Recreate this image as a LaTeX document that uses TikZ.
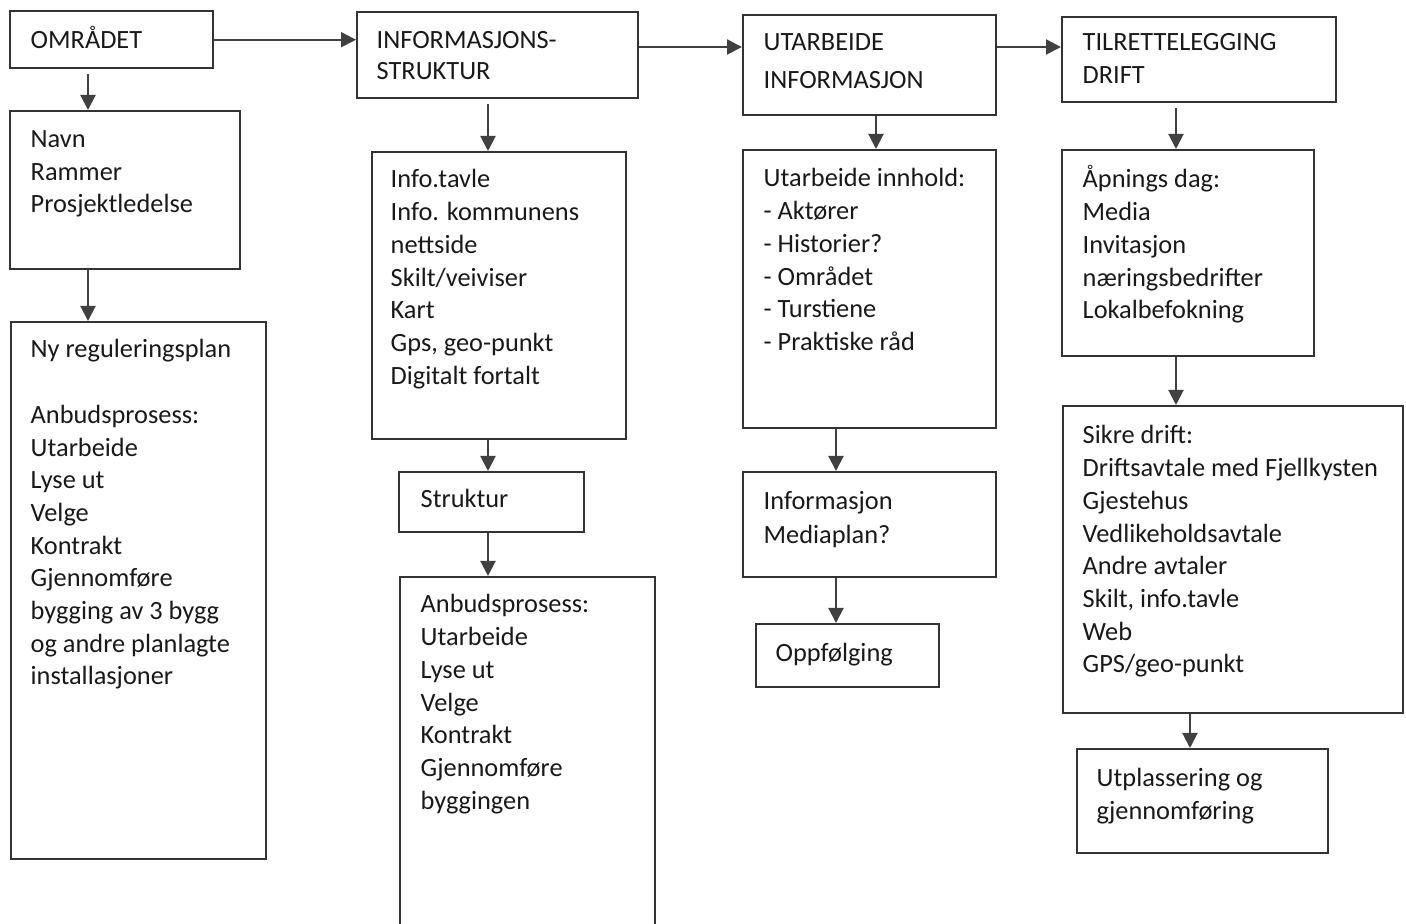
\documentclass[tikz,border=0pt]{standalone}
\usepackage{fontspec}
\setmainfont{Carlito}
\usetikzlibrary{arrows.meta}
\tikzset{
	boks/.style={draw=black!80, line width=0.7pt, anchor=north west, inner sep=0pt},
	tekst/.style={anchor=north west, align=left, inner sep=0pt, font=\fontsize{7.5}{9.3}\selectfont, text=black!90, execute at begin node=\strut},
	pil/.style={draw=black!75, line width=0.6pt, -{Triangle[length=1.5mm,width=1.5mm]}}
}
\begin{document}
\begin{tikzpicture}[x=0.1mm, y=-0.1mm]
			\clip (0,0) rectangle (1406,924);
			\node[boks, minimum width=20.3mm, minimum height=5.7mm] (omr) at (9,10) {};
			\node[boks, minimum width=28.1mm, minimum height=8.6mm] (info) at (356,11) {};
			\node[boks, minimum width=25.3mm, minimum height=10mm] (utarb) at (742,14) {};
			\node[boks, minimum width=27.4mm, minimum height=8.5mm] (tilr) at (1061,16) {};
			\node[boks, minimum width=23mm, minimum height=15.8mm] (navn) at (9,110) {};
			\node[boks, minimum width=25.5mm, minimum height=53.7mm] (regul) at (10,321) {};
			\node[boks, minimum width=25.4mm, minimum height=28.7mm] (tavle) at (371,151) {};
			\node[boks, minimum width=18.5mm, minimum height=6mm] (strukt) at (398,471) {};
			\node[boks, minimum width=25.5mm, minimum height=36mm] (anbud) at (399,576) {};
			\node[boks, minimum width=25.3mm, minimum height=27.8mm] (innh) at (742,149) {};
			\node[boks, minimum width=25.3mm, minimum height=10.5mm] (media) at (742,471) {};
			\node[boks, minimum width=18.3mm, minimum height=6.3mm] (oppf) at (755,623) {};
			\node[boks, minimum width=25.2mm, minimum height=20.6mm] (apn) at (1061,149) {};
			\node[boks, minimum width=34mm, minimum height=30.7mm] (sikre) at (1062,405) {};
			\node[boks, minimum width=25.1mm, minimum height=10.4mm] (utpl) at (1076,748) {};
			
			\node[tekst] (omr-t) at (30,25) {OMRÅDET};
			\node[tekst] (info-t) at (376,31) {INFORMASJONS-\\[-0.6pt]STRUKTUR};
			\node[tekst] (utarb-t) at (763,33) {UTARBEIDE\\[1.5pt]INFORMASJON};
			\node[tekst] (tilr-t) at (1082,33) {TILRETTELEGGING\\DRIFT};
			\node[tekst] (navn-t) at (30,130) {Navn\\Rammer\\Prosjektledelse};
			\node[tekst] (regul-t) at (30,339) {Ny reguleringsplan\\[9.3pt]Anbudsprosess:\\Utarbeide\\Lyse ut\\Velge\\Kontrakt\\Gjennomføre\\bygging av 3 bygg\\og andre planlagte\\installasjoner};
			\node[tekst] (tavle-t) at (390,169) {Info.tavle\\Info. kommunens\\nettside\\Skilt/veiviser\\Kart\\Gps, geo-punkt\\Digitalt fortalt};
			\node[tekst] (strukt-t) at (420,484) {Struktur};
			\node[tekst] (anbud-t) at (420,594) {Anbudsprosess:\\Utarbeide\\Lyse ut\\Velge\\Kontrakt\\Gjennomføre\\byggingen};
			\node[tekst] (innh-t) at (763,168) {Utarbeide innhold:\\- Aktører\\- Historier?\\- Området\\- Turstiene\\- Praktiske råd};
			\node[tekst] (media-t) at (763,491) {Informasjon\\[0.3pt]Mediaplan?};
			\node[tekst] (oppf-t) at (775,638) {Oppfølging};
			\node[tekst] (apn-t) at (1082,165) {Åpnings dag:\\Media\\Invitasjon\\næringsbedrifter\\Lokalbefokning};
			\node[tekst] (sikre-t) at (1082,425) {Sikre drift:\\Driftsavtale med Fjellkysten\\Gjestehus\\Vedlikeholdsavtale\\Andre avtaler\\Skilt, info.tavle\\Web\\GPS/geo-punkt};
			\node[tekst] (utpl-t) at (1096,768) {Utplassering og\\gjennomføring};
			
			\draw[pil] (omr.east) -- (omr.east -| info.west);
			\draw[pil] ([yshift=-3.6mm]info.north east) -- ([yshift=-3.6mm]info.north east -| utarb.west);
			\draw[pil] ([yshift=-3.3mm]utarb.north east) -- ([yshift=-3.3mm]utarb.north east -| tilr.west);
			\draw[pil, shorten <=0.5mm] ([xshift=7.9mm]navn.north west |- omr.south) -- ([xshift=7.9mm]navn.north west);
			\draw[pil] ([xshift=7.9mm]navn.south west) -- ([xshift=7.9mm]navn.south west |- regul.north);
			\draw[pil, shorten <=0.5mm] ([xshift=11.7mm]tavle.north west |- info.south) -- ([xshift=11.7mm]tavle.north west);
			\draw[pil] ([xshift=11.7mm]tavle.south west) -- ([xshift=11.7mm]tavle.south west |- strukt.north);
			\draw[pil] ([xshift=9mm]strukt.south west) -- ([xshift=9mm]strukt.south west |- anbud.north);
			\draw[pil] ([xshift=13.4mm]innh.north west |- utarb.south) -- ([xshift=13.4mm]innh.north west);
			\draw[pil] ([xshift=9.4mm]innh.south west) -- ([xshift=9.4mm]innh.south west |- media.north);
			\draw[pil] ([xshift=9.4mm]media.south west) -- ([xshift=9.4mm]media.south west |- oppf.north);
			\draw[pil, shorten <=0.5mm] ([xshift=11.5mm]apn.north west |- tilr.south) -- ([xshift=11.5mm]apn.north west);
			\draw[pil] ([xshift=11.5mm]apn.south west) -- ([xshift=11.5mm]apn.south west |- sikre.north);
			\draw[pil] ([xshift=12.8mm]sikre.south west) -- ([xshift=12.8mm]sikre.south west |- utpl.north);
		\end{tikzpicture}
\end{document}
